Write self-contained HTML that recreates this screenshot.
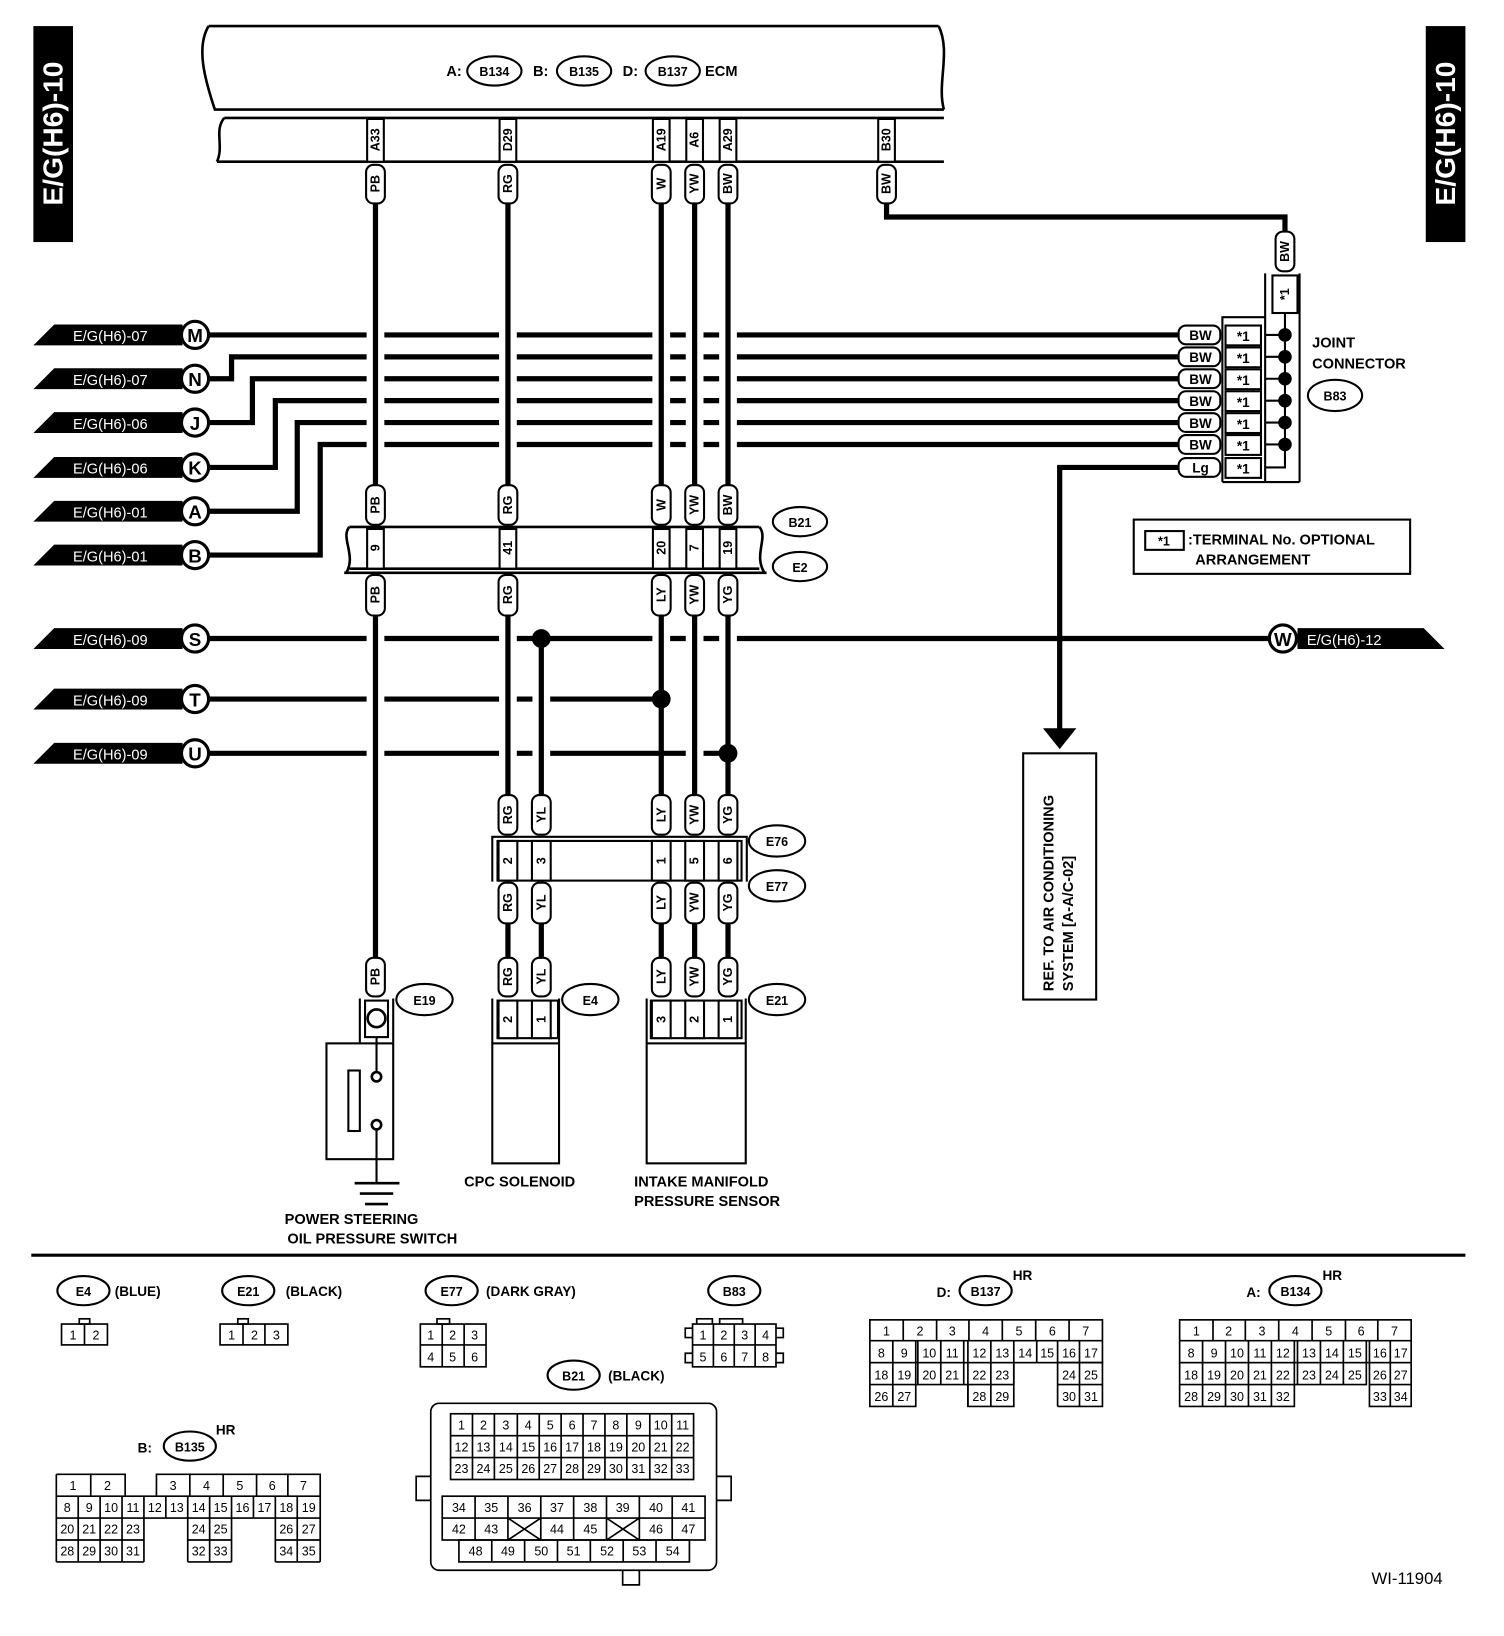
<!DOCTYPE html>
<html><head><meta charset="utf-8"><style>
html,body{margin:0;padding:0;background:#fff}
svg{display:block}
text{font-family:"Liberation Sans",sans-serif;fill:#000}
.b{font-weight:bold}
.v{font-weight:bold;font-size:12px;text-anchor:middle;dominant-baseline:central}
.c{font-size:12px;text-anchor:middle}
.w{stroke:#000;stroke-width:5;fill:none}
.h{stroke:#fff;stroke-width:17;fill:none}
.t{stroke:#000;stroke-width:2;fill:#fff}
.l{stroke:#000;stroke-width:2;fill:none}
</style></head><body>
<svg width="1504" height="1636" viewBox="0 0 1442 1568" preserveAspectRatio="none" xmlns="http://www.w3.org/2000/svg">
<!-- side tabs -->
<rect x="32" y="25" width="38" height="207" fill="#000"/>
<text transform="translate(60,128) rotate(-90)" fill="#fff" style="fill:#fff" class="b" font-size="27" text-anchor="middle">E/G(H6)-10</text>
<rect x="1367" y="25" width="38" height="207" fill="#000"/>
<text transform="translate(1395,128) rotate(-90)" style="fill:#fff" class="b" font-size="27" text-anchor="middle">E/G(H6)-10</text>

<!-- ECM -->
<g class="l" style="stroke-width:2.5">
<path d="M200,25 L900,25 M200,25 C188,45 196,75 206,105 L905,105 M900,25 C912,50 898,80 905,105"/>
<path d="M215,113 L905,113 M208,155 L905,155 M215,113 C205,125 215,140 208,155"/>
</g>
<text x="428" y="73" class="b" font-size="14">A:</text>
<ellipse cx="474" cy="68" rx="26" ry="14" class="t"/><text x="474" y="73" class="b c" font-size="13">B134</text>
<text x="511" y="73" class="b" font-size="14">B:</text>
<ellipse cx="560" cy="68" rx="26" ry="14" class="t"/><text x="560" y="73" class="b c" font-size="13">B135</text>
<text x="597" y="73" class="b" font-size="14">D:</text>
<ellipse cx="645" cy="68" rx="26" ry="14" class="t"/><text x="645" y="73" class="b c" font-size="13">B137</text>
<text x="676" y="73" class="b" font-size="14">ECM</text>
<!-- ECM pins -->
<g>
<rect x="352" y="114" width="16" height="41" class="t"/><text class="v" transform="translate(360,134) rotate(-90)">A33</text>
<rect x="479" y="114" width="16" height="41" class="t"/><text class="v" transform="translate(487,134) rotate(-90)">D29</text>
<rect x="626" y="114" width="16" height="41" class="t"/><text class="v" transform="translate(634,134) rotate(-90)">A19</text>
<rect x="658" y="114" width="16" height="41" class="t"/><text class="v" transform="translate(666,134) rotate(-90)">A6</text>
<rect x="690" y="114" width="16" height="41" class="t"/><text class="v" transform="translate(698,134) rotate(-90)">A29</text>
<rect x="842" y="114" width="16" height="41" class="t"/><text class="v" transform="translate(850,134) rotate(-90)">B30</text>
</g>

<!-- horizontal BW lines -->
<g class="w" stroke-linejoin="miter">
<path d="M200,321 L1130,321"/>
<path d="M200,363 L222,363 L222,342 L1130,342"/>
<path d="M200,405 L242,405 L242,363 L1130,363"/>
<path d="M200,448 L264,448 L264,384 L1130,384"/>
<path d="M200,490 L285,490 L285,405 L1130,405"/>
<path d="M200,532 L307,532 L307,426 L1130,426"/>
<path d="M1130,448 L1016,448 L1016,700"/>
<path d="M200,612 L1216,612"/>
<path d="M200,670 L634,670"/>
<path d="M200,722 L698,722"/>
<path d="M850,195 L850,208 L1232,208 L1232,222"/>
</g>
<polygon points="1000,698 1032,698 1016,718" fill="#000"/>

<!-- vertical wires halos -->
<g class="h">
<path d="M360,200 L360,465 M360,590 L360,918"/>
<path d="M487,200 L487,465 M487,590 L487,762"/>
<path d="M519,620 L519,762"/>
<path d="M634,200 L634,465 M634,590 L634,662"/>
<path d="M666,200 L666,465 M666,590 L666,762"/>
<path d="M698,200 L698,465 M698,590 L698,714"/>
</g>
<g class="w">
<path d="M360,195 L360,465 M360,590 L360,918"/>
<path d="M487,195 L487,465 M487,590 L487,762 M487,885 L487,918"/>
<path d="M519,612 L519,762 M519,885 L519,918"/>
<path d="M634,195 L634,465 M634,590 L634,762 M634,885 L634,918"/>
<path d="M666,195 L666,465 M666,590 L666,762 M666,885 L666,918"/>
<path d="M698,195 L698,465 M698,590 L698,762 M698,885 L698,918"/>
</g>
<circle cx="519" cy="612" r="9" fill="#000"/>
<circle cx="634" cy="670" r="9" fill="#000"/>
<circle cx="698" cy="722" r="9" fill="#000"/>

<!-- pills top -->
<g>
<rect x="351" y="158" width="18" height="37" rx="7" class="t"/><text class="v" transform="translate(360,176) rotate(-90)">PB</text>
<rect x="478" y="158" width="18" height="37" rx="7" class="t"/><text class="v" transform="translate(487,176) rotate(-90)">RG</text>
<rect x="625" y="158" width="18" height="37" rx="7" class="t"/><text class="v" transform="translate(634,176) rotate(-90)">W</text>
<rect x="657" y="158" width="18" height="37" rx="7" class="t"/><text class="v" transform="translate(666,176) rotate(-90)">YW</text>
<rect x="689" y="158" width="18" height="37" rx="7" class="t"/><text class="v" transform="translate(698,176) rotate(-90)">BW</text>
<rect x="841" y="158" width="18" height="37" rx="7" class="t"/><text class="v" transform="translate(850,176) rotate(-90)">BW</text>
<rect x="1223" y="222" width="18" height="38" rx="7" class="t"/><text class="v" transform="translate(1232,241) rotate(-90)">BW</text>
<rect x="1220" y="264" width="24" height="36" class="t"/><text class="v" transform="translate(1232,282) rotate(-90)">*1</text>
</g>

<!-- left tags -->
<g font-size="14">
<polygon points="32,331 52,311 175,311 175,331" fill="#000"/><text x="70" y="327" style="fill:#fff">E/G(H6)-07</text>
<polygon points="32,373 52,353 175,353 175,373" fill="#000"/><text x="70" y="369" style="fill:#fff">E/G(H6)-07</text>
<polygon points="32,415 52,395 175,395 175,415" fill="#000"/><text x="70" y="411" style="fill:#fff">E/G(H6)-06</text>
<polygon points="32,458 52,438 175,438 175,458" fill="#000"/><text x="70" y="454" style="fill:#fff">E/G(H6)-06</text>
<polygon points="32,500 52,480 175,480 175,500" fill="#000"/><text x="70" y="496" style="fill:#fff">E/G(H6)-01</text>
<polygon points="32,542 52,522 175,522 175,542" fill="#000"/><text x="70" y="538" style="fill:#fff">E/G(H6)-01</text>
<polygon points="32,622 52,602 175,602 175,622" fill="#000"/><text x="70" y="618" style="fill:#fff">E/G(H6)-09</text>
<polygon points="32,680 52,660 175,660 175,680" fill="#000"/><text x="70" y="676" style="fill:#fff">E/G(H6)-09</text>
<polygon points="32,732 52,712 175,712 175,732" fill="#000"/><text x="70" y="728" style="fill:#fff">E/G(H6)-09</text>
<polygon points="1244,602 1365,602 1385,622 1244,622" fill="#000"/><text x="1253" y="618" style="fill:#fff">E/G(H6)-12</text>
</g>
<g class="b" font-size="18" text-anchor="middle">
<circle cx="187" cy="321" r="13" fill="#fff" stroke="#000" stroke-width="3"/><text x="187" y="328">M</text>
<circle cx="187" cy="363" r="13" fill="#fff" stroke="#000" stroke-width="3"/><text x="187" y="370">N</text>
<circle cx="187" cy="405" r="13" fill="#fff" stroke="#000" stroke-width="3"/><text x="187" y="412">J</text>
<circle cx="187" cy="448" r="13" fill="#fff" stroke="#000" stroke-width="3"/><text x="187" y="455">K</text>
<circle cx="187" cy="490" r="13" fill="#fff" stroke="#000" stroke-width="3"/><text x="187" y="497">A</text>
<circle cx="187" cy="532" r="13" fill="#fff" stroke="#000" stroke-width="3"/><text x="187" y="539">B</text>
<circle cx="187" cy="612" r="13" fill="#fff" stroke="#000" stroke-width="3"/><text x="187" y="619">S</text>
<circle cx="187" cy="670" r="13" fill="#fff" stroke="#000" stroke-width="3"/><text x="187" y="677">T</text>
<circle cx="187" cy="722" r="13" fill="#fff" stroke="#000" stroke-width="3"/><text x="187" y="729">U</text>
<circle cx="1230" cy="612" r="13" fill="#fff" stroke="#000" stroke-width="3"/><text x="1230" y="619">W</text>
</g>

<!-- joint connector -->
<g class="b" font-size="13" text-anchor="middle">
<rect x="1130" y="312" width="40" height="18" rx="7" class="t"/><text x="1151" y="326">BW</text>
<rect x="1130" y="333" width="40" height="18" rx="7" class="t"/><text x="1151" y="347">BW</text>
<rect x="1130" y="354" width="40" height="18" rx="7" class="t"/><text x="1151" y="368">BW</text>
<rect x="1130" y="375" width="40" height="18" rx="7" class="t"/><text x="1151" y="389">BW</text>
<rect x="1130" y="396" width="40" height="18" rx="7" class="t"/><text x="1151" y="410">BW</text>
<rect x="1130" y="417" width="40" height="18" rx="7" class="t"/><text x="1151" y="431">BW</text>
<rect x="1130" y="439" width="40" height="18" rx="7" class="t"/><text x="1151" y="453">Lg</text>
<rect x="1175" y="312" width="34" height="19" class="t"/><text x="1192" y="327">*1</text>
<rect x="1175" y="333" width="34" height="19" class="t"/><text x="1192" y="348">*1</text>
<rect x="1175" y="354" width="34" height="19" class="t"/><text x="1192" y="369">*1</text>
<rect x="1175" y="375" width="34" height="19" class="t"/><text x="1192" y="390">*1</text>
<rect x="1175" y="396" width="34" height="19" class="t"/><text x="1192" y="411">*1</text>
<rect x="1175" y="417" width="34" height="19" class="t"/><text x="1192" y="432">*1</text>
<rect x="1175" y="439" width="34" height="19" class="t"/><text x="1192" y="454">*1</text>
</g>
<g class="l">
<path d="M1172,462 L1172,304 L1213,304 M1213,262 L1213,462 M1246,262 L1246,462 M1172,462 L1246,462"/>
<path d="M1232,300 L1232,448 L1213,448 M1213,321 L1232,321 M1213,342 L1232,342 M1213,363 L1232,363 M1213,384 L1232,384 M1213,405 L1232,405 M1213,426 L1232,426"/>
</g>
<g fill="#000">
<circle cx="1232" cy="321" r="6.5"/><circle cx="1232" cy="342" r="6.5"/><circle cx="1232" cy="363" r="6.5"/>
<circle cx="1232" cy="384" r="6.5"/><circle cx="1232" cy="405" r="6.5"/><circle cx="1232" cy="426" r="6.5"/>
</g>
<text x="1258" y="333" class="b" font-size="14">JOINT</text>
<text x="1258" y="353" class="b" font-size="14">CONNECTOR</text>
<ellipse cx="1280" cy="379" rx="26" ry="15" class="t"/><text x="1280" y="384" class="b c" font-size="13">B83</text>

<!-- note box -->
<rect x="1087" y="498" width="265" height="52" class="l"/>
<rect x="1098" y="509" width="37" height="18" class="l"/>
<text x="1116" y="523" class="b c" font-size="13">*1</text>
<text x="1139" y="522" class="b" font-size="14">:TERMINAL No. OPTIONAL</text>
<text x="1146" y="541" class="b" font-size="14">ARRANGEMENT</text>

<!-- REF box -->
<rect x="981" y="722" width="70" height="236" class="l"/>
<text transform="translate(1010,950) rotate(-90)" class="b" font-size="14">REF. TO AIR CONDITIONING</text>
<text transform="translate(1029,950) rotate(-90)" class="b" font-size="14">SYSTEM [A-A/C-02]</text>

<!-- B21/E2 band -->
<g class="l" style="stroke-width:2.5">
<path d="M335,505 L728,505 M335,545 L728,545 M330,549 L735,549"/>
<path d="M335,505 C326,515 342,532 332,549 M728,505 C737,515 722,532 733,549"/>
</g>
<g>
<rect x="352" y="507" width="16" height="38" class="t"/><text class="v" transform="translate(360,525) rotate(-90)">9</text>
<rect x="479" y="507" width="16" height="38" class="t"/><text class="v" transform="translate(487,525) rotate(-90)">41</text>
<rect x="626" y="507" width="16" height="38" class="t"/><text class="v" transform="translate(634,525) rotate(-90)">20</text>
<rect x="658" y="507" width="16" height="38" class="t"/><text class="v" transform="translate(666,525) rotate(-90)">7</text>
<rect x="690" y="507" width="16" height="38" class="t"/><text class="v" transform="translate(698,525) rotate(-90)">19</text>
</g>
<g>
<rect x="351" y="465" width="18" height="38" rx="7" class="t"/><text class="v" transform="translate(360,484) rotate(-90)">PB</text>
<rect x="478" y="465" width="18" height="38" rx="7" class="t"/><text class="v" transform="translate(487,484) rotate(-90)">RG</text>
<rect x="625" y="465" width="18" height="38" rx="7" class="t"/><text class="v" transform="translate(634,484) rotate(-90)">W</text>
<rect x="657" y="465" width="18" height="38" rx="7" class="t"/><text class="v" transform="translate(666,484) rotate(-90)">YW</text>
<rect x="689" y="465" width="18" height="38" rx="7" class="t"/><text class="v" transform="translate(698,484) rotate(-90)">BW</text>
<rect x="351" y="551" width="18" height="39" rx="7" class="t"/><text class="v" transform="translate(360,570) rotate(-90)">PB</text>
<rect x="478" y="551" width="18" height="39" rx="7" class="t"/><text class="v" transform="translate(487,570) rotate(-90)">RG</text>
<rect x="625" y="551" width="18" height="39" rx="7" class="t"/><text class="v" transform="translate(634,570) rotate(-90)">LY</text>
<rect x="657" y="551" width="18" height="39" rx="7" class="t"/><text class="v" transform="translate(666,570) rotate(-90)">YW</text>
<rect x="689" y="551" width="18" height="39" rx="7" class="t"/><text class="v" transform="translate(698,570) rotate(-90)">YG</text>
</g>
<ellipse cx="767" cy="500" rx="26" ry="14" class="t"/><text x="767" y="505" class="b c" font-size="13">B21</text>
<ellipse cx="767" cy="543" rx="26" ry="14" class="t"/><text x="767" y="548" class="b c" font-size="13">E2</text>

<!-- E76/E77 -->
<path d="M472,845 L472,802 L716,802 L716,845" class="l"/>
<rect x="477" y="806" width="234" height="38" class="l"/>
<g>
<rect x="478" y="806" width="18" height="38" class="t"/><text class="v" transform="translate(487,825) rotate(-90)">2</text>
<rect x="510" y="806" width="18" height="38" class="t"/><text class="v" transform="translate(519,825) rotate(-90)">3</text>
<rect x="625" y="806" width="18" height="38" class="t"/><text class="v" transform="translate(634,825) rotate(-90)">1</text>
<rect x="657" y="806" width="18" height="38" class="t"/><text class="v" transform="translate(666,825) rotate(-90)">5</text>
<rect x="689" y="806" width="18" height="38" class="t"/><text class="v" transform="translate(698,825) rotate(-90)">6</text>
</g>
<g>
<rect x="478" y="762" width="18" height="38" rx="7" class="t"/><text class="v" transform="translate(487,781) rotate(-90)">RG</text>
<rect x="510" y="762" width="18" height="38" rx="7" class="t"/><text class="v" transform="translate(519,781) rotate(-90)">YL</text>
<rect x="625" y="762" width="18" height="38" rx="7" class="t"/><text class="v" transform="translate(634,781) rotate(-90)">LY</text>
<rect x="657" y="762" width="18" height="38" rx="7" class="t"/><text class="v" transform="translate(666,781) rotate(-90)">YW</text>
<rect x="689" y="762" width="18" height="38" rx="7" class="t"/><text class="v" transform="translate(698,781) rotate(-90)">YG</text>
<rect x="478" y="846" width="18" height="39" rx="7" class="t"/><text class="v" transform="translate(487,865) rotate(-90)">RG</text>
<rect x="510" y="846" width="18" height="39" rx="7" class="t"/><text class="v" transform="translate(519,865) rotate(-90)">YL</text>
<rect x="625" y="846" width="18" height="39" rx="7" class="t"/><text class="v" transform="translate(634,865) rotate(-90)">LY</text>
<rect x="657" y="846" width="18" height="39" rx="7" class="t"/><text class="v" transform="translate(666,865) rotate(-90)">YW</text>
<rect x="689" y="846" width="18" height="39" rx="7" class="t"/><text class="v" transform="translate(698,865) rotate(-90)">YG</text>
<rect x="351" y="918" width="18" height="37" rx="7" class="t"/><text class="v" transform="translate(360,936) rotate(-90)">PB</text>
<rect x="478" y="918" width="18" height="37" rx="7" class="t"/><text class="v" transform="translate(487,936) rotate(-90)">RG</text>
<rect x="510" y="918" width="18" height="37" rx="7" class="t"/><text class="v" transform="translate(519,936) rotate(-90)">YL</text>
<rect x="625" y="918" width="18" height="37" rx="7" class="t"/><text class="v" transform="translate(634,936) rotate(-90)">LY</text>
<rect x="657" y="918" width="18" height="37" rx="7" class="t"/><text class="v" transform="translate(666,936) rotate(-90)">YW</text>
<rect x="689" y="918" width="18" height="37" rx="7" class="t"/><text class="v" transform="translate(698,936) rotate(-90)">YG</text>
</g>
<ellipse cx="745" cy="806" rx="27" ry="15" class="t"/><text x="745" y="811" class="b c" font-size="13">E76</text>
<ellipse cx="745" cy="849" rx="27" ry="15" class="t"/><text x="745" y="854" class="b c" font-size="13">E77</text>

<!-- E19 switch -->
<path d="M345,957 L345,999 M377,957 L377,999" class="l"/>
<rect x="350" y="959" width="22" height="35" class="l"/>
<circle cx="361" cy="976" r="8.5" class="l" style="stroke-width:2.5"/>
<rect x="313" y="1000" width="64" height="111" class="l"/>
<rect x="334" y="1026" width="11" height="58" class="l"/>
<path d="M361,994 L361,1027 M361,1083 L361,1134" class="l"/>
<circle cx="361" cy="1032" r="4.5" class="t" style="stroke-width:2.5"/>
<circle cx="361" cy="1078" r="4.5" class="t" style="stroke-width:2.5"/>
<path d="M340,1134 L383,1134 M345,1144 L377,1144 M350,1154 L372,1154" class="l" style="stroke-width:2.5"/>
<ellipse cx="407" cy="958" rx="27" ry="15" class="t"/><text x="407" y="963" class="b c" font-size="13">E19</text>
<text x="337" y="1173" class="b" font-size="14" text-anchor="middle">POWER STEERING</text>
<text x="357" y="1192" class="b" font-size="14" text-anchor="middle">OIL PRESSURE SWITCH</text>

<!-- E4 CPC -->
<path d="M472,957 L472,1000 M536,957 L536,1000" class="l"/>
<rect x="477" y="959" width="58" height="36" class="l"/>
<rect x="478" y="959" width="18" height="36" class="t"/><text class="v" transform="translate(487,977) rotate(-90)">2</text>
<rect x="510" y="959" width="18" height="36" class="t"/><text class="v" transform="translate(519,977) rotate(-90)">1</text>
<rect x="472" y="1000" width="64" height="115" class="l"/>
<ellipse cx="566" cy="958" rx="27" ry="15" class="t"/><text x="566" y="963" class="b c" font-size="13">E4</text>
<text x="445" y="1137" class="b" font-size="14">CPC SOLENOID</text>

<!-- E21 sensor -->
<path d="M620,957 L620,1000 M715,957 L715,1000" class="l"/>
<rect x="624" y="959" width="87" height="36" class="l"/>
<rect x="625" y="959" width="18" height="36" class="t"/><text class="v" transform="translate(634,977) rotate(-90)">3</text>
<rect x="657" y="959" width="18" height="36" class="t"/><text class="v" transform="translate(666,977) rotate(-90)">2</text>
<rect x="689" y="959" width="18" height="36" class="t"/><text class="v" transform="translate(698,977) rotate(-90)">1</text>
<rect x="620" y="1000" width="95" height="115" class="l"/>
<ellipse cx="745" cy="958" rx="27" ry="15" class="t"/><text x="745" y="963" class="b c" font-size="13">E21</text>
<text x="608" y="1137" class="b" font-size="14">INTAKE MANIFOLD</text>
<text x="608" y="1156" class="b" font-size="14">PRESSURE SENSOR</text>

<!-- divider -->
<path d="M30,1203 L1405,1203" stroke="#000" stroke-width="3"/>

<!-- bottom connector labels -->
<g class="b" font-size="13">
<ellipse cx="80" cy="1237" rx="25" ry="14" class="t"/><text x="80" y="1242" class="c b" font-size="13">E4</text><text x="110" y="1242">(BLUE)</text>
<ellipse cx="238" cy="1237" rx="25" ry="14" class="t"/><text x="238" y="1242" class="c b" font-size="13">E21</text><text x="274" y="1242">(BLACK)</text>
<ellipse cx="433" cy="1237" rx="25" ry="14" class="t"/><text x="433" y="1242" class="c b" font-size="13">E77</text><text x="466" y="1242">(DARK GRAY)</text>
<ellipse cx="704" cy="1237" rx="25" ry="14" class="t"/><text x="704" y="1242" class="c b" font-size="13">B83</text>
<ellipse cx="550" cy="1318" rx="25" ry="14" class="t"/><text x="550" y="1323" class="c b" font-size="13">B21</text><text x="583" y="1323">(BLACK)</text>
<text x="132" y="1392">B:</text><ellipse cx="182" cy="1386" rx="25" ry="14" class="t"/><text x="182" y="1391" class="c b" font-size="13">B135</text><text x="207" y="1375">HR</text>
<text x="898" y="1243">D:</text><ellipse cx="945" cy="1237" rx="25" ry="14" class="t"/><text x="945" y="1242" class="c b" font-size="13">B137</text><text x="971" y="1227">HR</text>
<text x="1195" y="1243">A:</text><ellipse cx="1242" cy="1237" rx="25" ry="14" class="t"/><text x="1242" y="1242" class="c b" font-size="13">B134</text><text x="1268" y="1227">HR</text>
</g>

<g class="l" style="stroke-width:1.6">
<!-- E4 -->
<rect x="59" y="1269" width="44" height="20"/><path d="M81,1269 V1289"/><rect x="76" y="1264" width="10" height="5"/>
<!-- E21 -->
<rect x="211" y="1269" width="65" height="20"/><path d="M233,1269 V1289 M254,1269 V1289"/><rect x="228" y="1264" width="10" height="5"/>
<!-- E77 -->
<rect x="403" y="1269" width="63" height="41"/><path d="M424,1269 V1310 M445,1269 V1310 M403,1289 H466"/><rect x="419" y="1264" width="12" height="5"/>
<!-- B83 -->
<rect x="664" y="1269" width="80" height="41"/><path d="M684,1269 V1310 M704,1269 V1310 M724,1269 V1310 M664,1289 H744"/>
<path d="M668,1269 V1264 H683 V1269 M690,1269 V1264 H712 V1269 M664,1273 H657 V1282 H664 M744,1273 H751 V1282 H744 M664,1297 H657 V1306 H664 M744,1297 H751 V1306 H744"/>
<!-- B21 housing -->
<rect x="413" y="1345" width="274" height="160" rx="8"/>
<path d="M413,1415 H399 V1438 H413 M687,1415 H701 V1438 H687 M597,1505 V1519 H613 V1505"/>
<rect x="432" y="1355" width="233" height="63"/>
<path d="M432,1376 H665 M432,1397 H665 M453,1355 V1418 M474,1355 V1418 M496,1355 V1418 M517,1355 V1418 M538,1355 V1418 M559,1355 V1418 M580,1355 V1418 M601,1355 V1418 M623,1355 V1418 M644,1355 V1418"/>
<rect x="424" y="1434" width="252" height="42"/>
<path d="M424,1455 H676 M455.5,1434 V1476 M487,1434 V1476 M518.5,1434 V1476 M550,1434 V1476 M581.5,1434 V1476 M613,1434 V1476 M644.5,1434 V1476"/>
<path d="M487,1455 L518.5,1476 M518.5,1455 L487,1476 M581.5,1455 L613,1476 M613,1455 L581.5,1476"/>
<rect x="440" y="1476" width="221" height="21"/>
<path d="M471.5,1476 V1497 M503,1476 V1497 M534.5,1476 V1497 M566,1476 V1497 M597.5,1476 V1497 M629,1476 V1497"/>
<!-- B135 -->
<path d="M54,1413 H120 V1434 M54,1413 V1497 M87,1413 V1434 M150,1434 V1413 H307 V1497 M182,1413 V1434 M214,1413 V1434 M246,1413 V1434 M276,1413 V1434"/>
<path d="M54,1434 H307 M54,1455 H307"/>
<path d="M75,1434 V1497 M96,1434 V1497 M117,1434 V1497 M138,1434 V1497 M159,1434 V1455 M180,1434 V1497 M201,1434 V1497 M222,1434 V1497 M243,1434 V1455 M264,1434 V1497 M285,1434 V1497"/>
<path d="M54,1476 H138 M180,1476 H222 M264,1476 H307 M54,1497 H138 M180,1497 H222 M264,1497 H307"/>
<!-- B137 -->
<rect x="834" y="1265" width="223" height="41"/>
<path d="M834,1285 H1057 M866,1265 V1285 M898,1265 V1285 M929,1265 V1285 M961,1265 V1285 M993,1265 V1285 M1025,1265 V1285"/>
<path d="M856,1285 V1348 M878,1285 V1327 M880,1285 V1327 M902,1285 V1327 M924,1285 V1327 M928,1285 V1348 M950,1285 V1348 M972,1285 V1327 M994,1285 V1306 M1014,1285 V1348 M1035,1285 V1348"/>
<path d="M834,1306 V1348 H878 V1327 H834 M834,1327 H972 M928,1327 V1348 H972 V1327 M1014,1306 H1057 V1348 H1014 M1014,1327 H1057 M972,1306 V1327"/>
<!-- B134 -->
<rect x="1131" y="1265" width="222" height="41"/>
<path d="M1131,1285 H1353 M1163,1265 V1285 M1194,1265 V1285 M1226,1265 V1285 M1258,1265 V1285 M1290,1265 V1285 M1321,1265 V1285"/>
<path d="M1131,1306 V1348 H1241 V1306 M1131,1327 H1310 M1153,1285 V1348 M1175,1285 V1348 M1197,1285 V1348 M1219,1285 V1348 M1241,1285 V1327 M1244,1285 V1327 H1310 V1285 M1266,1285 V1327 M1288,1285 V1327 M1313,1285 V1348 H1353 V1306 M1333,1285 V1348 M1313,1327 H1353"/>
</g>

<g class="c" font-size="13">
<text x="70" y="1284">1</text><text x="92" y="1284">2</text>
<text x="222" y="1284">1</text><text x="244" y="1284">2</text><text x="265" y="1284">3</text>
<text x="413" y="1284">1</text><text x="434" y="1284">2</text><text x="455" y="1284">3</text>
<text x="413" y="1305">4</text><text x="434" y="1305">5</text><text x="455" y="1305">6</text>
<text x="674" y="1284">1</text><text x="694" y="1284">2</text><text x="714" y="1284">3</text><text x="734" y="1284">4</text>
<text x="674" y="1305">5</text><text x="694" y="1305">6</text><text x="714" y="1305">7</text><text x="734" y="1305">8</text>
</g>
<g class="c" font-size="12">
<text x="442.5" y="1370">1</text><text x="463.5" y="1370">2</text><text x="485" y="1370">3</text><text x="506.5" y="1370">4</text><text x="527.5" y="1370">5</text><text x="548.5" y="1370">6</text><text x="569.5" y="1370">7</text><text x="590.5" y="1370">8</text><text x="612" y="1370">9</text><text x="633.5" y="1370">10</text><text x="654.5" y="1370">11</text>
<text x="442.5" y="1391">12</text><text x="463.5" y="1391">13</text><text x="485" y="1391">14</text><text x="506.5" y="1391">15</text><text x="527.5" y="1391">16</text><text x="548.5" y="1391">17</text><text x="569.5" y="1391">18</text><text x="590.5" y="1391">19</text><text x="612" y="1391">20</text><text x="633.5" y="1391">21</text><text x="654.5" y="1391">22</text>
<text x="442.5" y="1412">23</text><text x="463.5" y="1412">24</text><text x="485" y="1412">25</text><text x="506.5" y="1412">26</text><text x="527.5" y="1412">27</text><text x="548.5" y="1412">28</text><text x="569.5" y="1412">29</text><text x="590.5" y="1412">30</text><text x="612" y="1412">31</text><text x="633.5" y="1412">32</text><text x="654.5" y="1412">33</text>
<text x="440" y="1449">34</text><text x="471" y="1449">35</text><text x="503" y="1449">36</text><text x="534" y="1449">37</text><text x="566" y="1449">38</text><text x="597" y="1449">39</text><text x="629" y="1449">40</text><text x="660" y="1449">41</text>
<text x="440" y="1470">42</text><text x="471" y="1470">43</text><text x="534" y="1470">44</text><text x="566" y="1470">45</text><text x="629" y="1470">46</text><text x="660" y="1470">47</text>
<text x="456" y="1491">48</text><text x="487" y="1491">49</text><text x="519" y="1491">50</text><text x="550" y="1491">51</text><text x="582" y="1491">52</text><text x="613" y="1491">53</text><text x="645" y="1491">54</text>
<!-- B135 -->
<text x="70" y="1428">1</text><text x="103" y="1428">2</text><text x="166" y="1428">3</text><text x="198" y="1428">4</text><text x="230" y="1428">5</text><text x="261" y="1428">6</text><text x="291" y="1428">7</text>
<text x="64.5" y="1449">8</text><text x="85.5" y="1449">9</text><text x="106.5" y="1449">10</text><text x="127.5" y="1449">11</text><text x="148.5" y="1449">12</text><text x="169.5" y="1449">13</text><text x="190.5" y="1449">14</text><text x="211.5" y="1449">15</text><text x="232.5" y="1449">16</text><text x="253.5" y="1449">17</text><text x="274.5" y="1449">18</text><text x="296" y="1449">19</text>
<text x="64.5" y="1470">20</text><text x="85.5" y="1470">21</text><text x="106.5" y="1470">22</text><text x="127.5" y="1470">23</text><text x="190.5" y="1470">24</text><text x="211.5" y="1470">25</text><text x="274.5" y="1470">26</text><text x="296" y="1470">27</text>
<text x="64.5" y="1491">28</text><text x="85.5" y="1491">29</text><text x="106.5" y="1491">30</text><text x="127.5" y="1491">31</text><text x="190.5" y="1491">32</text><text x="211.5" y="1491">33</text><text x="274.5" y="1491">34</text><text x="296" y="1491">35</text>
<!-- B137 -->
<text x="850" y="1280">1</text><text x="882" y="1280">2</text><text x="913" y="1280">3</text><text x="945" y="1280">4</text><text x="977" y="1280">5</text><text x="1009" y="1280">6</text><text x="1041" y="1280">7</text>
<text x="845" y="1301">8</text><text x="867" y="1301">9</text><text x="891" y="1301">10</text><text x="913" y="1301">11</text><text x="939" y="1301">12</text><text x="961" y="1301">13</text><text x="983" y="1301">14</text><text x="1004" y="1301">15</text><text x="1025" y="1301">16</text><text x="1046" y="1301">17</text>
<text x="845" y="1322">18</text><text x="867" y="1322">19</text><text x="891" y="1322">20</text><text x="913" y="1322">21</text><text x="939" y="1322">22</text><text x="961" y="1322">23</text><text x="1025" y="1322">24</text><text x="1046" y="1322">25</text>
<text x="845" y="1343">26</text><text x="867" y="1343">27</text><text x="939" y="1343">28</text><text x="961" y="1343">29</text><text x="1025" y="1343">30</text><text x="1046" y="1343">31</text>
<!-- B134 -->
<text x="1147" y="1280">1</text><text x="1178" y="1280">2</text><text x="1210" y="1280">3</text><text x="1242" y="1280">4</text><text x="1274" y="1280">5</text><text x="1305" y="1280">6</text><text x="1337" y="1280">7</text>
<text x="1142" y="1301">8</text><text x="1164" y="1301">9</text><text x="1186" y="1301">10</text><text x="1208" y="1301">11</text><text x="1230" y="1301">12</text><text x="1255" y="1301">13</text><text x="1277" y="1301">14</text><text x="1299" y="1301">15</text><text x="1323" y="1301">16</text><text x="1343" y="1301">17</text>
<text x="1142" y="1322">18</text><text x="1164" y="1322">19</text><text x="1186" y="1322">20</text><text x="1208" y="1322">21</text><text x="1230" y="1322">22</text><text x="1255" y="1322">23</text><text x="1277" y="1322">24</text><text x="1299" y="1322">25</text><text x="1323" y="1322">26</text><text x="1343" y="1322">27</text>
<text x="1142" y="1343">28</text><text x="1164" y="1343">29</text><text x="1186" y="1343">30</text><text x="1208" y="1343">31</text><text x="1230" y="1343">32</text><text x="1323" y="1343">33</text><text x="1343" y="1343">34</text>
</g>
<text x="1315" y="1518" font-size="16">WI-11904</text>
</svg>
</body></html>
